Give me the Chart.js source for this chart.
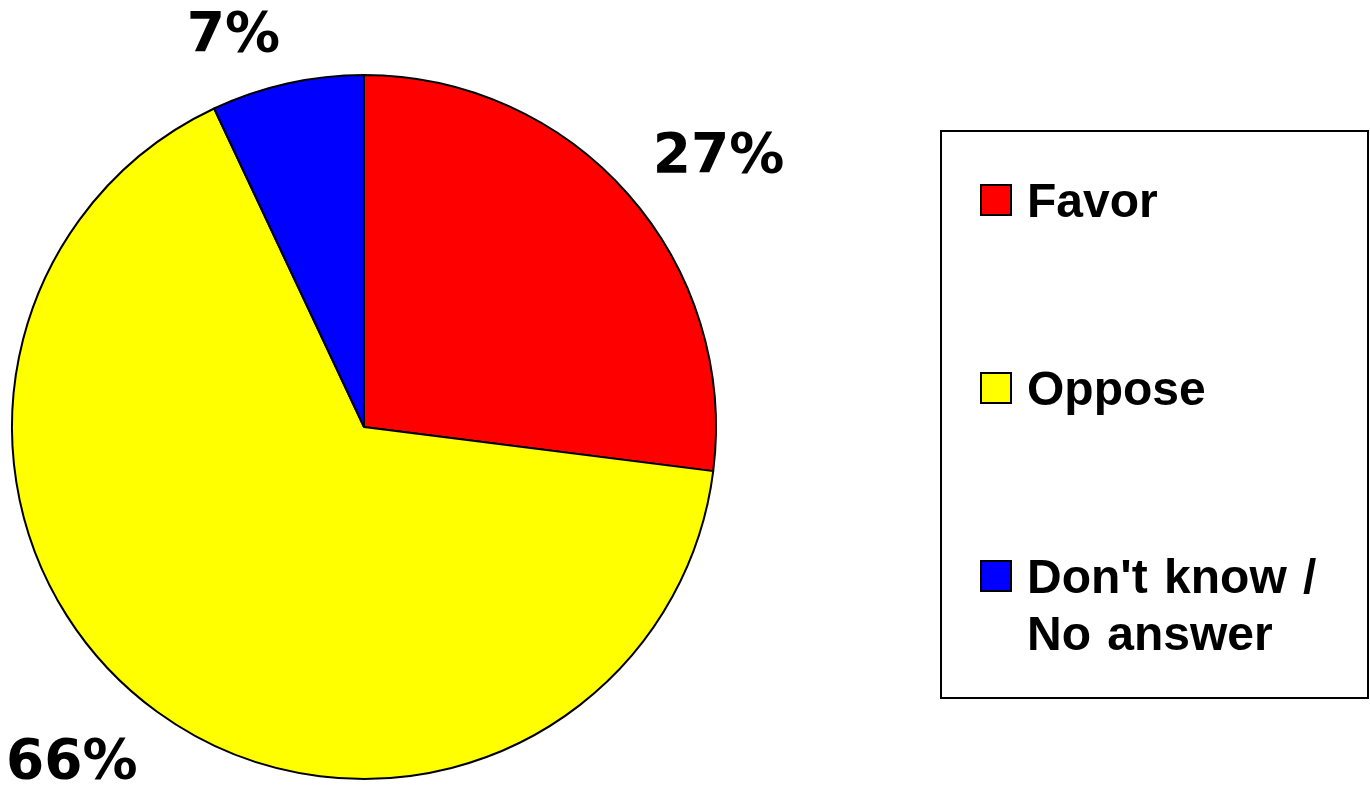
<!DOCTYPE html>
<html>
<head>
<meta charset="utf-8">
<script src="https://cdn.jsdelivr.net/npm/chart.js@4"></script>
<style>
  html, body { margin: 0; padding: 0; background: #ffffff; }
  #wrap { width: 1370px; height: 788px; }
</style>
</head>
<body>
<div id="wrap"><canvas id="c" width="1370" height="788"></canvas></div>
<script>
// ---- data ----
const categories = ['Favor', 'Oppose', "Don't know / No answer"];
const values = [27, 66, 7];
const sliceColors = ['#FF0000', '#FFFF00', '#0000FF'];

// ---- label plugin (percent labels outside each slice) ----
const outsideLabels = {
  id: 'outsideLabels',
  afterDatasetsDraw(chart, args, opts) {
    const ctx = chart.ctx;
    const meta = chart.getDatasetMeta(0);
    const data = chart.data.datasets[0].data;
    const total = data.reduce((a, b) => a + b, 0);
    ctx.save();
    ctx.font = opts.font;
    ctx.fillStyle = opts.color;
    ctx.textAlign = 'center';
    ctx.textBaseline = 'alphabetic';
    meta.data.forEach((arc, i) => {
      const p = arc.getProps(['x', 'y', 'startAngle', 'endAngle', 'outerRadius'], true);
      const mid = (p.startAngle + p.endAngle) / 2;
      const txt = Math.round(data[i] / total * 100) + '%';
      const w = ctx.measureText(txt).width;
      const h = opts.digitHeight;
      const d = p.outerRadius + opts.gap;
      const ax = p.x + Math.cos(mid) * d;
      const ay = p.y + Math.sin(mid) * d;
      const cx = ax + Math.sign(Math.cos(mid)) * w / 2;
      const cy = ay + Math.sign(Math.sin(mid)) * h / 2;
      ctx.fillText(txt, cx, cy + h / 2);
    });
    ctx.restore();
  }
};

// ---- boxed legend plugin ----
const boxLegend = {
  id: 'boxLegend',
  afterDraw(chart, args, o) {
    const ctx = chart.ctx;
    const labels = chart.data.labels;
    const colors = chart.data.datasets[0].backgroundColor;
    ctx.save();
    ctx.strokeStyle = '#000';
    ctx.lineWidth = 2;
    ctx.strokeRect(o.left, o.top, o.right - o.left, o.bottom - o.top);
    ctx.font = o.font;
    ctx.fillStyle = '#000';
    ctx.textAlign = 'left';
    ctx.textBaseline = 'alphabetic';
    if ('wordSpacing' in ctx) ctx.wordSpacing = o.wordSpacing;
    labels.forEach((lab, i) => {
      const cy = o.firstRow + i * o.rowStep;
      ctx.fillStyle = colors[i];
      ctx.fillRect(o.boxX, cy - o.boxSize / 2, o.boxSize, o.boxSize);
      ctx.strokeStyle = '#000';
      ctx.lineWidth = 2;
      ctx.strokeRect(o.boxX, cy - o.boxSize / 2, o.boxSize, o.boxSize);
      ctx.fillStyle = '#000';
      const lines = lab.split(/(?<=\/) /);
      lines.forEach((ln, j) => {
        ctx.fillText(ln, o.textX, cy + o.capHeight / 2 + j * o.lineHeight);
      });
    });
    ctx.restore();
  }
};

new Chart(document.getElementById('c'), {
  type: 'pie',
  data: {
    labels: categories,
    datasets: [{
      data: values,
      backgroundColor: sliceColors,
      borderColor: '#000000',
      borderWidth: 2
    }]
  },
  options: {
    responsive: false,
    animation: false,
    devicePixelRatio: 1,
    layout: { padding: { left: 11, top: 74, right: 653, bottom: 8 } },
    plugins: {
      legend: { display: false },
      tooltip: { enabled: false },
      outsideLabels: {
        font: 'bold 55px "DejaVu Sans"',
        color: '#000',
        gap: 33,
        digitHeight: 40
      },
      boxLegend: {
        left: 941, top: 131, right: 1368, bottom: 698,
        font: 'bold 48px "Liberation Sans", Arial, sans-serif',
        wordSpacing: '3px',
        firstRow: 200, rowStep: 188, lineHeight: 57,
        boxX: 981, boxSize: 30, textX: 1027, capHeight: 34
      }
    }
  },
  plugins: [outsideLabels, boxLegend]
});
</script>
</body>
</html>
